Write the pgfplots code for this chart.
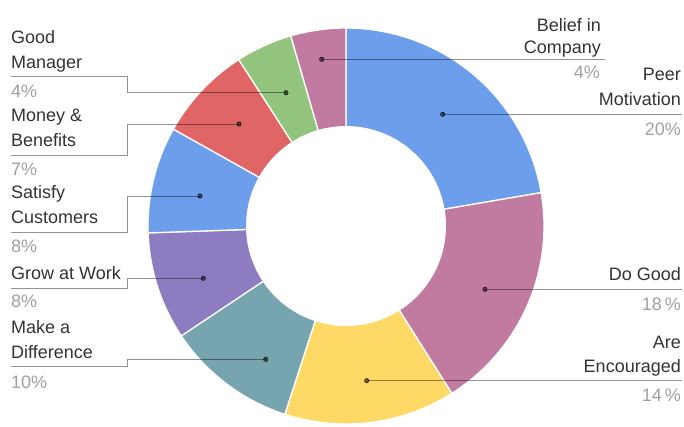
\documentclass[border=0pt]{standalone}
\usepackage{pgfplots}
\pgfplotsset{compat=1.18}
\usepackage{fontspec}
\setmainfont{Liberation Sans}
\definecolor{cBlue}{HTML}{6D9EEB}
\definecolor{cMauve}{HTML}{C27BA0}
\definecolor{cYellow}{HTML}{FFD966}
\definecolor{cTeal}{HTML}{76A5AF}
\definecolor{cPurple}{HTML}{8E7CC3}
\definecolor{cRed}{HTML}{E06666}
\definecolor{cGreen}{HTML}{93C47D}
\definecolor{txt}{HTML}{333333}
\definecolor{pct}{HTML}{A0A0A0}
% slice: start angle, end angle (degrees), colour
\newcommand{\slice}[3]{%
  \addplot[fill=#3, draw=white, line width=1.3pt, domain=#1:#2, samples=60, variable=\t]
    ({346+198*cos(\t)},{226-198*sin(\t)}) -- (346,226) -- cycle;
}
\newcommand{\lt}[3]{\node[anchor=base west, text=#3, inner sep=0pt, font=\fontsize{18}{20}\selectfont] at (11,#1) {#2};}
\newcommand{\rt}[4]{\node[anchor=base east, text=#4, inner sep=0pt, font=\fontsize{18}{20}\selectfont] at (#1,#2) {#3};}
\begin{document}
\begin{tikzpicture}
\begin{axis}[
  scale only axis, width=684pt, height=426pt,
  xmin=0, xmax=684, ymin=0, ymax=426, y dir=reverse,
  hide axis, clip=false,
  leader/.style={draw=black, opacity=0.42, line width=0.9pt},
]
% Peer Motivation 20%, Do Good 18%, Are Encouraged 14%, Make a Difference 10%,
% Grow at Work 8%, Satisfy Customers 8%, Money & Benefits 7%, Good Manager 4%, Belief in Company 4%
\slice{9.7}{90}{cBlue}
\slice{-57.7}{9.7}{cMauve}
\slice{-108}{-57.7}{cYellow}
\slice{-146.3}{-108}{cTeal}
\slice{-178}{-146.3}{cPurple}
\slice{-209.3}{-178}{cBlue}
\slice{-237.2}{-209.3}{cRed}
\slice{-253.8}{-237.2}{cGreen}
\slice{-270}{-253.8}{cMauve}
% hole
\addplot[fill=white, draw=none, domain=0:360, samples=120, variable=\t]
  ({346+100*cos(\t)},{226-100*sin(\t)}) -- cycle;
% leader lines
\addplot[leader] coordinates {(286,92.7) (127,92.7) (127,76.7) (11,76.7)};
\addplot[leader] coordinates {(239,124) (127,124) (127,155) (11,155)};
\addplot[leader] coordinates {(200,196) (127,196) (127,232.3) (11,232.3)};
\addplot[leader] coordinates {(203.3,278.3) (127,278.3) (127,288.3) (11,288.3)};
\addplot[leader] coordinates {(265.7,359.3) (127,359.3) (127,366.7) (11,366.7)};
\addplot[leader] coordinates {(321.7,59.3) (605,59.3)};
\addplot[leader] coordinates {(442.7,114.3) (681.7,114.3)};
\addplot[leader] coordinates {(485,289.3) (681.7,289.3)};
\addplot[leader] coordinates {(366.7,380.7) (681.7,380.7)};
% dots
\addplot[only marks, mark=*, mark size=2.2pt, mark options={draw=none, fill=black, fill opacity=0.55}]
  coordinates {(286,92.7) (239,124) (200,196) (203.3,278.3) (265.7,359.3)
               (321.7,59.3) (442.7,114.3) (485,289.3) (366.7,380.7)};
% left labels
\lt{43.3}{Good}{txt}
\lt{68.3}{Manager}{txt}
\lt{97}{4\%}{pct}
\lt{121.7}{Money \&}{txt}
\lt{146.7}{Benefits}{txt}
\lt{175}{7\%}{pct}
\lt{198.3}{Satisfy}{txt}
\lt{223.3}{Customers}{txt}
\lt{252.7}{8\%}{pct}
\lt{279.5}{Grow at Work}{txt}
\lt{307}{8\%}{pct}
\lt{333.3}{Make a}{txt}
\lt{358.3}{Difference}{txt}
\lt{388.3}{10\%}{pct}
% right labels
\rt{601}{31.7}{Belief in}{txt}
\rt{601}{53.3}{Company}{txt}
\rt{600}{78.3}{4\%}{pct}
\rt{681}{80}{Peer}{txt}
\rt{681}{105}{Motivation}{txt}
\rt{681}{135}{20\%}{pct}
\rt{681}{280}{Do Good}{txt}
\rt{681}{310}{18\,\%}{pct}
\rt{681}{348.3}{Are}{txt}
\rt{681}{372.7}{Encouraged}{txt}
\rt{681}{401.7}{14\,\%}{pct}
\end{axis}
\pgfresetboundingbox
\path (current axis.south west) rectangle (current axis.north east);
\end{tikzpicture}
\end{document}
